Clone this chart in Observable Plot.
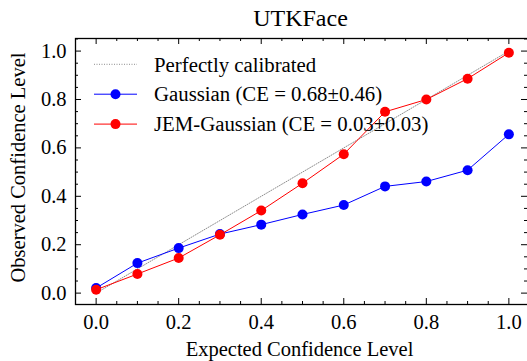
<!DOCTYPE html>
<html>
<head>
<meta charset="utf-8">
<script src="https://cdn.jsdelivr.net/npm/d3@7"></script>
<script src="https://cdn.jsdelivr.net/npm/@observablehq/plot@0.6"></script>
<style>
  body { margin: 0; background: #fff; }
  svg { display: block; }
</style>
</head>
<body>
<div id="chart"></div>
<script>
// ---- data ----
const title = "UTKFace";
const xLabel = "Expected Confidence Level";
const yLabel = "Observed Confidence Level";
const bins = [0.0, 0.1, 0.2, 0.3, 0.4, 0.5, 0.6, 0.7, 0.8, 0.9, 1.0];
const gaussian = [0.021, 0.124, 0.186, 0.244, 0.283, 0.325, 0.364, 0.441, 0.461, 0.508, 0.656];
const jemGaussian = [0.014, 0.079, 0.145, 0.241, 0.341, 0.454, 0.574, 0.749, 0.800, 0.886, 0.993];
const perfectX = [0, 1];
const perfectY = [0, 1];
const seriesNames = ["Perfectly calibrated", "Gaussian (CE = 0.68\u00b10.46)", "JEM-Gaussian (CE = 0.03\u00b10.03)"];
const seriesColors = ["#808080", "#0000ff", "#ff0000"];
const majorTicks = [0.0, 0.2, 0.4, 0.6, 0.8, 1.0];
const minorTicksX = [0.05, 0.1, 0.15, 0.25, 0.3, 0.35, 0.45, 0.5, 0.55, 0.65, 0.7, 0.75, 0.85, 0.9, 0.95];
const minorTicksY = [0.05, 0.1, 0.15, 0.25, 0.3, 0.35, 0.45, 0.5, 0.55, 0.65, 0.7, 0.75, 0.85, 0.9, 0.95, 1.05];

// ---- layout ----
const W = 527, H = 361;
const mL = 75, mR = -2, mT = 38, mB = 57;
const fw = W - mL - mR, fh = H - mT - mB;
const FONT = "'Liberation Serif', 'Times New Roman', serif";
const majorLen = 6, minorLen = 3;

const gRows = bins.map((x, i) => ({x, y: gaussian[i]}));
const jRows = bins.map((x, i) => ({x, y: jemGaussian[i]}));
const pRows = perfectX.map((x, i) => ({x, y: perfectY[i]}));
const fmt = d3.format(".1f");

const svg = Plot.plot({
  width: W, height: H,
  marginLeft: mL, marginRight: mR, marginTop: mT, marginBottom: mB,
  style: {fontFamily: FONT, fontSize: "20px", background: "white", color: "black", overflow: "visible"},
  x: {domain: [-0.05, 1.05]},
  y: {domain: [-0.047, 1.052]},
  marks: [
    // tick labels
    Plot.axisX({ticks: majorTicks, tickSize: 0, tickPadding: 10, tickFormat: fmt, fontSize: 20.5, label: null}),
    Plot.axisY({ticks: majorTicks, tickSize: 0, tickPadding: 9, tickFormat: fmt, fontSize: 20.5, label: null}),
    // inward ticks, all four sides
    Plot.tickX(majorTicks, {x: d => d, insetTop: fh - majorLen, stroke: "black"}),
    Plot.tickX(majorTicks, {x: d => d, insetBottom: fh - majorLen, stroke: "black"}),
    Plot.tickX(minorTicksX, {x: d => d, insetTop: fh - minorLen, stroke: "black"}),
    Plot.tickX(minorTicksX, {x: d => d, insetBottom: fh - minorLen, stroke: "black"}),
    Plot.tickY(majorTicks, {y: d => d, insetRight: fw - majorLen, stroke: "black"}),
    Plot.tickY(majorTicks, {y: d => d, insetLeft: fw - majorLen - 2, stroke: "black"}),
    Plot.tickY(minorTicksY, {y: d => d, insetRight: fw - minorLen, stroke: "black"}),
    Plot.tickY(minorTicksY, {y: d => d, insetLeft: fw - minorLen - 2, stroke: "black"}),
    // data
    Plot.line(pRows, {x: "x", y: "y", stroke: seriesColors[0], strokeWidth: 0.9, strokeDasharray: "1,1.5"}),
    Plot.line(gRows, {x: "x", y: "y", stroke: seriesColors[1], strokeWidth: 1}),
    Plot.dot(gRows, {x: "x", y: "y", r: 5, fill: seriesColors[1], stroke: null}),
    Plot.line(jRows, {x: "x", y: "y", stroke: seriesColors[2], strokeWidth: 1}),
    Plot.dot(jRows, {x: "x", y: "y", r: 5, fill: seriesColors[2], stroke: null}),
    Plot.frame({stroke: "black", strokeWidth: 1.3}),
    // title & axis labels
    Plot.text([title], {frameAnchor: "top", text: d => d, dy: -30, lineAnchor: "top", textAnchor: "middle", fontSize: 24, dx: -2}),
    Plot.text([xLabel], {frameAnchor: "bottom", text: d => d, dy: 37, lineAnchor: "top", textAnchor: "middle", fontSize: 20.5, dx: -3}),
    Plot.text([yLabel], {frameAnchor: "left", text: d => d, dx: -57, dy: -4, rotate: -90, lineAnchor: "middle", textAnchor: "middle", fontSize: 20.5})
  ]
});

// legend (upper left, inside the frame)
const lg = d3.select(svg).append("g")
  .attr("font-family", FONT).attr("font-size", 20.8).attr("text-anchor", "start");
const rowY0 = mT + 26.3, rowStep = 29.9;
seriesNames.forEach((name, i) => {
  const y = rowY0 + i * rowStep;
  const g = lg.append("g");
  g.append("line").attr("x1", mL + 19).attr("x2", mL + 62).attr("y1", y).attr("y2", y)
    .attr("stroke", seriesColors[i]).attr("stroke-width", i === 0 ? 0.9 : 1)
    .attr("stroke-dasharray", i === 0 ? "1,1.5" : null);
  if (i > 0) g.append("circle").attr("cx", mL + 40.5).attr("cy", y).attr("r", 5).attr("fill", seriesColors[i]);
  g.append("text").attr("x", mL + 79).attr("y", y).attr("dy", "0.35em")
    .attr("text-anchor", "start").attr("fill", "black").text(name);
});

document.getElementById("chart").appendChild(svg);
</script>
</body>
</html>
